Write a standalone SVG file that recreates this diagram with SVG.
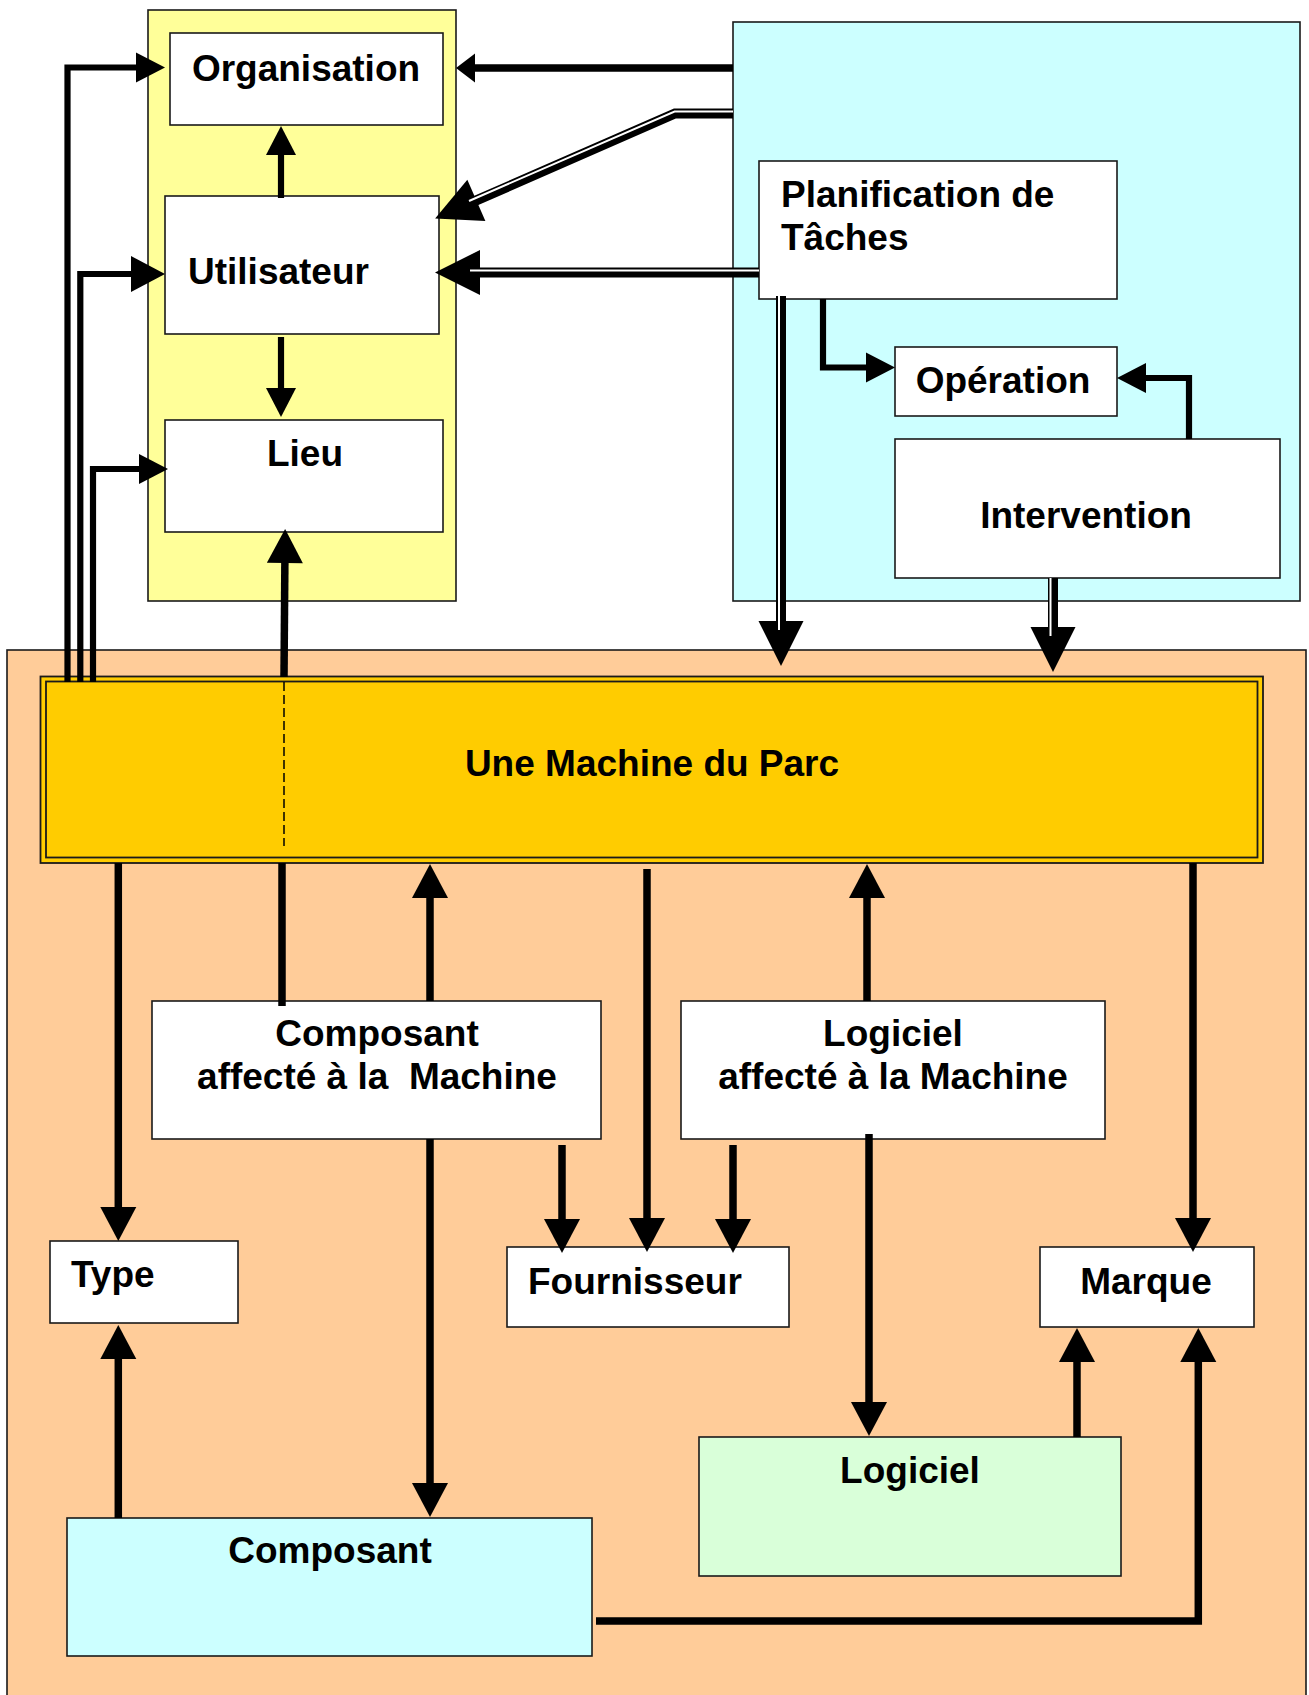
<svg xmlns="http://www.w3.org/2000/svg" width="1309" height="1695" viewBox="0 0 1309 1695">
<style>
.box{stroke:#1a1a1a;stroke-width:1.6}
.w{fill:#ffffff}
.t{font-family:"Liberation Sans",Arial,sans-serif;font-weight:bold;font-size:37px;fill:#000}
.c{text-anchor:middle}
.ln{fill:none;stroke:#000;stroke-width:7.5;stroke-linejoin:miter}
.ln5{fill:none;stroke:#000;stroke-width:6.2;stroke-linejoin:miter}
.dbl{fill:none;stroke:#000;stroke-width:10;stroke-linejoin:miter}
.gap{fill:none;stroke:#fff;stroke-width:2;stroke-linejoin:miter}
</style>
<defs>
<marker id="mA" markerUnits="userSpaceOnUse" markerWidth="34" markerHeight="36" refX="17" refY="18" orient="auto" overflow="visible"><path d="M0,0 L34,18 L0,36 Z" fill="#000"/></marker>
<marker id="mS" markerUnits="userSpaceOnUse" markerWidth="29" markerHeight="30" refX="14.5" refY="15" orient="auto" overflow="visible"><path d="M0,0 L29,15 L0,30 Z" fill="#000"/></marker>
<marker id="mB" markerUnits="userSpaceOnUse" markerWidth="45" markerHeight="45" refX="22" refY="22.5" orient="auto" overflow="visible"><path d="M0,0 L45,22.5 L0,45 Z" fill="#000"/></marker>
<marker id="mT" markerUnits="userSpaceOnUse" markerWidth="19" markerHeight="29" refX="9.5" refY="14.5" orient="auto" overflow="visible"><path d="M0,0 L19,14.5 L0,29 Z" fill="#000"/></marker>
</defs>
<rect width="1309" height="1695" fill="#ffffff"/>

<g id="zone-organisation">
<rect class="box" x="148" y="10" width="308" height="591" fill="#FFFF99"/>
</g>
<g id="zone-planification">
<rect class="box" x="733" y="22" width="567" height="579" fill="#CCFFFF"/>
</g>
<g id="zone-parc">
<rect class="box" x="7" y="650" width="1299" height="1055" fill="#FFCC99"/>
</g>

<g id="organisation">
<rect class="box w" x="170" y="33" width="273" height="92"/>
<text class="t c" x="306" y="81">Organisation</text>
</g>
<g id="utilisateur">
<rect class="box w" x="165" y="196" width="274" height="138"/>
<text class="t" x="188" y="284">Utilisateur</text>
</g>
<g id="lieu">
<rect class="box w" x="165" y="420" width="278" height="112"/>
<text class="t c" x="305" y="466">Lieu</text>
</g>
<g id="planification">
<rect class="box w" x="759" y="161" width="358" height="138"/>
<text class="t" x="781" y="207">Planification de</text>
<text class="t" x="781" y="250">Tâches</text>
</g>
<g id="operation">
<rect class="box w" x="895" y="347" width="222" height="69"/>
<text class="t c" x="1003" y="393">Opération</text>
</g>
<g id="intervention">
<rect class="box w" x="895" y="439" width="385" height="139"/>
<text class="t c" x="1086" y="528">Intervention</text>
</g>
<g id="machine">
<rect x="40.5" y="676.5" width="1222.5" height="186.5" fill="#FFCC00" stroke="#1a1a1a" stroke-width="1.8"/>
<rect x="46" y="681.5" width="1211.5" height="176" fill="none" stroke="#1a1a1a" stroke-width="1.8"/>
<text class="t c" x="652" y="776">Une Machine du Parc</text>
</g>
<g id="composant-affecte">
<rect class="box w" x="152" y="1001" width="449" height="138"/>
<text class="t c" x="377" y="1046">Composant</text>
<text class="t c" x="377" y="1089" xml:space="preserve">affecté à la  Machine</text>
</g>
<g id="logiciel-affecte">
<rect class="box w" x="681" y="1001" width="424" height="138"/>
<text class="t c" x="893" y="1046">Logiciel</text>
<text class="t c" x="893" y="1089">affecté à la Machine</text>
</g>
<g id="type">
<rect class="box w" x="50" y="1241" width="188" height="82"/>
<text class="t" x="71" y="1287">Type</text>
</g>
<g id="fournisseur">
<rect class="box w" x="507" y="1247" width="282" height="80"/>
<text class="t" x="528" y="1294">Fournisseur</text>
</g>
<g id="marque">
<rect class="box w" x="1040" y="1247" width="214" height="80"/>
<text class="t c" x="1146" y="1294">Marque</text>
</g>
<g id="logiciel">
<rect class="box" x="699" y="1437" width="422" height="139" fill="#D9FFD9"/>
<text class="t c" x="910" y="1483">Logiciel</text>
</g>
<g id="composant">
<rect class="box" x="67" y="1518" width="525" height="138" fill="#CCFFFF"/>
<text class="t c" x="330" y="1563">Composant</text>
</g>

<g id="connectors">
<path class="ln5" d="M67.5,682 V67.5 H150.5" marker-end="url(#mS)"/>
<path class="ln5" d="M80.3,682 V274 H148" marker-end="url(#mA)"/>
<path class="ln5" d="M93,682 V469 H153.5" marker-end="url(#mS)"/>
<path class="ln" d="M284,677 L285,546" marker-end="url(#mA)"/>
<path d="M284,682 V846" fill="none" stroke="#000" stroke-width="1.5" stroke-dasharray="9 4"/>
<path class="ln" d="M282,863 V1006"/>
<path class="ln5" d="M281,198 V140.5" marker-end="url(#mS)"/>
<path class="ln5" d="M281,337 V402.5" marker-end="url(#mS)"/>
<path class="ln" d="M733,68 H465.5" marker-end="url(#mT)"/>
<path class="dbl" d="M733,113.5 H675 L456.2,209.2" marker-end="url(#mB)"/>
<path class="gap" d="M733,111.5 H674.6 L469,201"/>
<path class="dbl" d="M759,272.5 H458" marker-end="url(#mB)"/>
<path class="gap" d="M759,270.5 H470"/>
<path class="dbl" d="M781,296 V643" marker-end="url(#mB)"/>
<path class="gap" d="M779,296 V630"/>
<path class="ln5" d="M823,299 V367.5 H880.5" marker-end="url(#mS)"/>
<path class="ln5" d="M1189,439 V378 H1131.5" marker-end="url(#mS)"/>
<path class="dbl" d="M1053,578 V649" marker-end="url(#mB)"/>
<path class="gap" d="M1050.5,578 V636"/>
<path class="ln" d="M118.3,863 V1224" marker-end="url(#mA)"/>
<path class="ln" d="M430,1001 V881" marker-end="url(#mA)"/>
<path class="ln" d="M647,869 V1235" marker-end="url(#mA)"/>
<path class="ln" d="M867,1001 V881" marker-end="url(#mA)"/>
<path class="ln" d="M1193,863 V1235" marker-end="url(#mA)"/>
<path class="ln" d="M562,1145 V1236" marker-end="url(#mA)"/>
<path class="ln" d="M733,1145 V1236" marker-end="url(#mA)"/>
<path class="ln" d="M430,1139 V1500" marker-end="url(#mA)"/>
<path class="ln" d="M869,1134 V1419" marker-end="url(#mA)"/>
<path class="ln" d="M1077,1437 V1345" marker-end="url(#mA)"/>
<path class="ln" d="M596,1621 H1198.3 V1345" marker-end="url(#mA)"/>
<path class="ln" d="M118.3,1518 V1342" marker-end="url(#mA)"/>
</g>
</svg>
